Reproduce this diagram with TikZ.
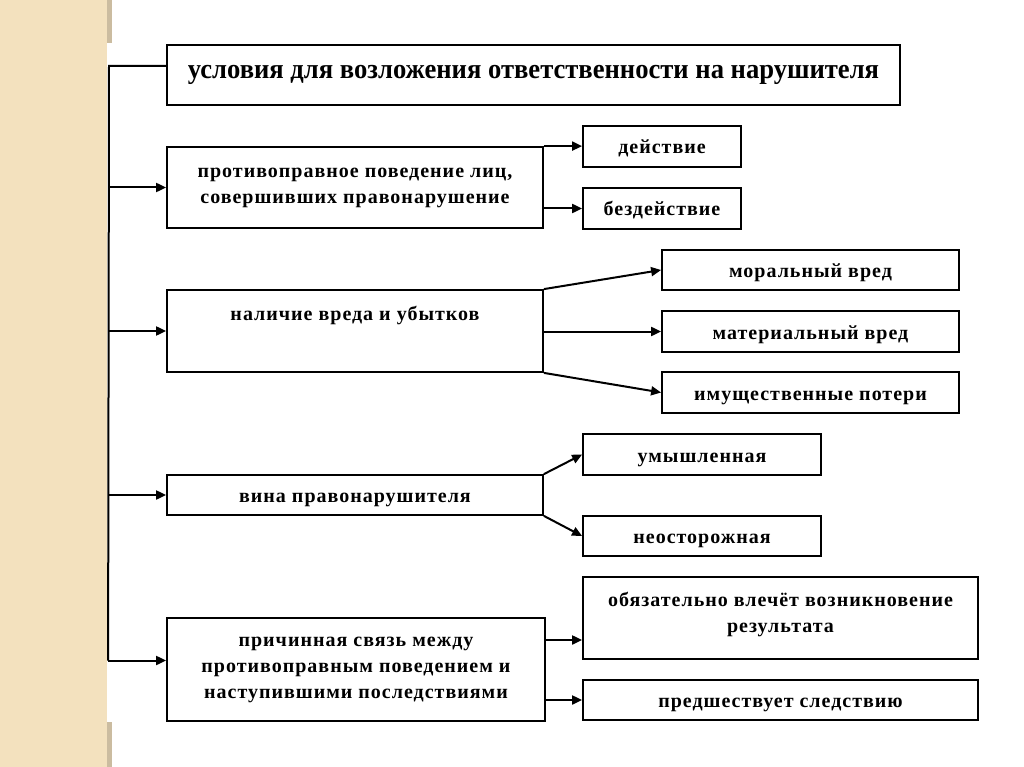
\documentclass[tikz,border=0pt]{standalone}
\usepackage{fontspec}
\setmainfont{Liberation Serif}
\newfontfamily\headfont[FakeStretch=0.95]{Liberation Serif}
\newfontfamily\boxfont[LetterSpace=5]{Liberation Serif}
\usetikzlibrary{arrows.meta,calc}
\definecolor{strip}{RGB}{243,225,190}
\definecolor{stripdark}{RGB}{203,188,160}
\begin{document}
\begin{tikzpicture}[x=1pt,y=-1pt,
    box/.style={draw, line width=1.8pt, align=center, inner sep=2pt,
        font=\boxfont\bfseries\fontsize{20}{26}\selectfont},
    onerow/.style={text height=17pt, text depth=2pt},
    arr/.style={line width=2pt, -{Triangle[length=10pt,width=9pt]}}]
        \useasboundingbox (0,0) rectangle (1024,767);

        % Полоса слева
        \fill[strip] (0,0) rectangle (107,767);
        \fill[stripdark] (107,0) rectangle (112,43);
        \fill[stripdark] (107,722) rectangle (112,767);

        % Заголовок
        \node[box, minimum width=733, minimum height=60,
            font=\headfont\bfseries\fontsize{28}{32}\selectfont] (top) at (533.5,75)
            {условия для возложения ответственности на нарушителя};

        % Левый столбец
        \node[box, minimum width=376, minimum height=81] (prot) at (355,187.5)
            {противоправное поведение лиц,\\совершивших правонарушение};
        \node[box, minimum width=376, minimum height=82] (nal) at (355,331) {};
        \node[box, draw=none] (nal-lbl) at (355,315) {наличие вреда и убытков};
        \node[box, onerow, minimum width=376, minimum height=40] (vina) at (355,495)
            {вина правонарушителя};
        \node[box, minimum width=378, minimum height=103] (prich) at (356,669.5)
            {причинная связь между\\противоправным поведением и\\наступившими последствиями};

        % Правый столбец
        \node[box, onerow, minimum width=158, minimum height=41] (deistv) at (662,146.5) {действие};
        \node[box, onerow, minimum width=158, minimum height=41] (bezd) at (662,208.5) {бездействие};
        \node[box, onerow, minimum width=297, minimum height=40] (moral) at (810.5,270) {моральный вред};
        \node[box, onerow, minimum width=297, minimum height=41] (mater) at (810.5,331.5) {материальный вред};
        \node[box, onerow, minimum width=297, minimum height=41] (imusch) at (810.5,392.5) {имущественные потери};
        \node[box, onerow, minimum width=238, minimum height=41] (umysh) at (702,454.5) {умышленная};
        \node[box, onerow, minimum width=238, minimum height=40] (neost) at (702,536) {неосторожная};
        \node[box, minimum width=395, minimum height=82] (obyaz) at (780.5,618) {};
        \node[box, draw=none] (obyaz-lbl) at (780.5,614)
            {обязательно влечёт возникновение\\результата};
        \node[box, onerow, minimum width=395, minimum height=40] (predsh) at (780.5,700) {предшествует следствию};

        % Ствол слева
        \coordinate (spine) at (109,66);
        \coordinate (spine-end) at ($(prich.west)+(-58,-9)$);
        \draw[line width=2pt] (spine -| top.west) -- (spine) -- (spine-end);
        \draw[arr] (spine |- prot.west) -- (prot.west);
        \draw[arr] (spine |- nal.west) -- (nal.west);
        \draw[arr] (spine |- vina.west) -- (vina.west);
        \draw[arr] (spine-end) -- (spine-end -| prich.west);

        % Стрелки вправо
        \draw[arr] (prot.north east) -- (prot.north east -| deistv.west);
        \draw[arr] (bezd.west -| prot.east) -- (bezd.west);
        \draw[arr] (nal.north east) -- (moral.west);
        \draw[arr] (mater.west -| nal.east) -- (mater.west);
        \draw[arr] (nal.south east) -- (imusch.west);
        \draw[arr] (vina.north east) -- (umysh.west);
        \draw[arr] (vina.south east) -- (neost.west);
        \coordinate (p1) at ($(obyaz.west)+(0,22)$);
        \draw[arr] (p1 -| prich.east) -- (p1);
        \draw[arr] (predsh.west -| prich.east) -- (predsh.west);
    \end{tikzpicture}
\end{document}
